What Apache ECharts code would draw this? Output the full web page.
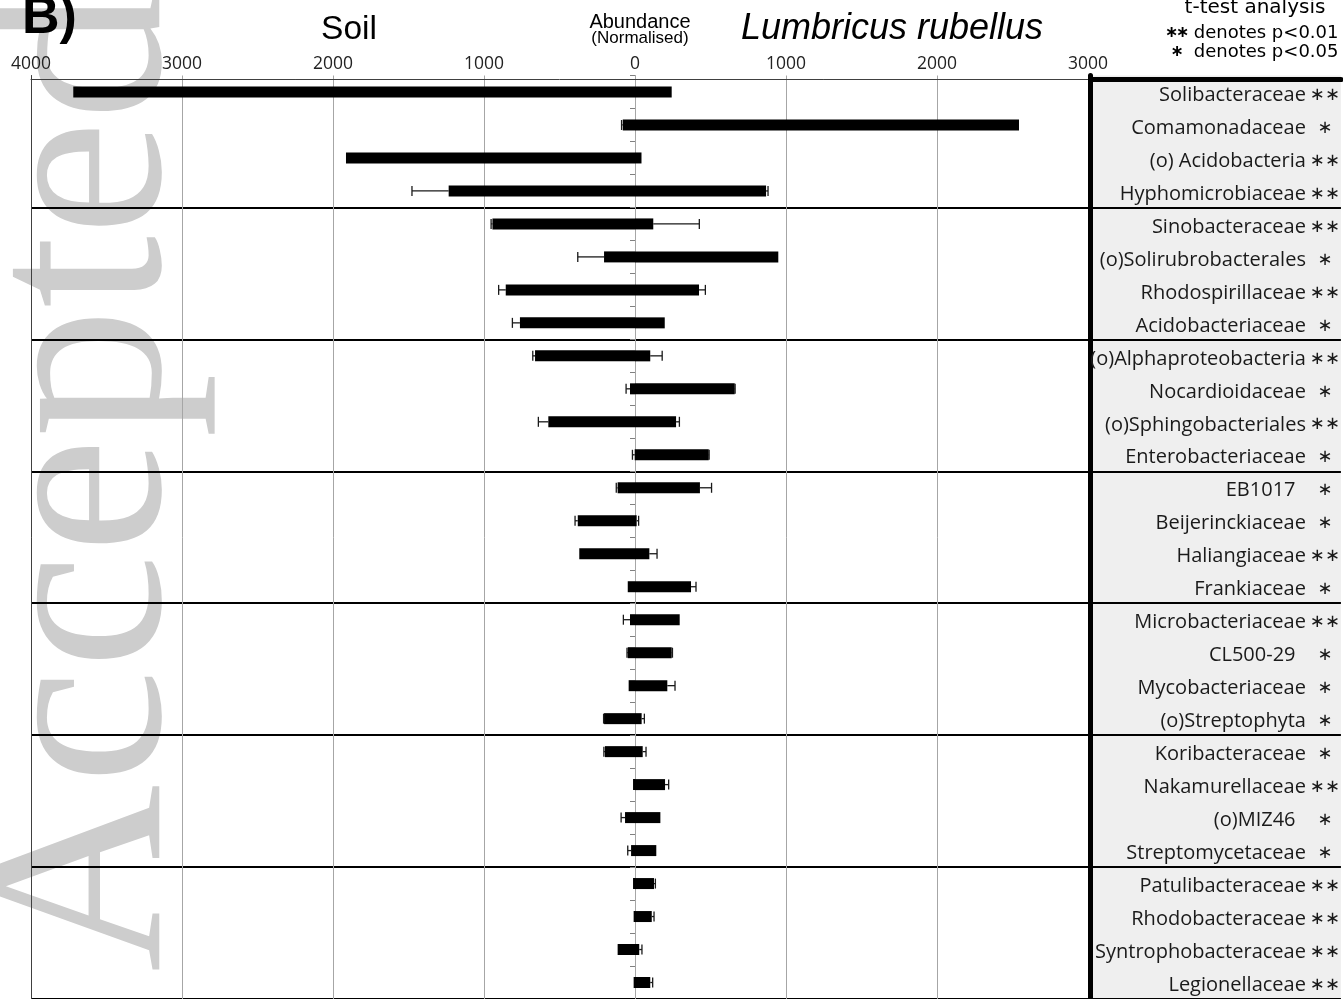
<!DOCTYPE html>
<html>
<head>
<meta charset="utf-8">
<script src="https://cdn.jsdelivr.net/npm/echarts@6/dist/echarts.min.js"></script>
<style>
  html, body { margin: 0; padding: 0; background: #ffffff; }
  #chart { width: 1343px; height: 999px; }
</style>
</head>
<body>
<div id="chart"></div>
<script>
// Taxa, ordered top to bottom, in blocks of four
const taxa = [
  'Solibacteraceae', 'Comamonadaceae', '(o) Acidobacteria', 'Hyphomicrobiaceae',
  'Sinobacteraceae', '(o)Solirubrobacterales', 'Rhodospirillaceae', 'Acidobacteriaceae',
  '(o)Alphaproteobacteria', 'Nocardioidaceae', '(o)Sphingobacteriales', 'Enterobacteriaceae',
  'EB1017  ', 'Beijerinckiaceae', 'Haliangiaceae', 'Frankiaceae',
  'Microbacteriaceae', 'CL500-29  ', 'Mycobacteriaceae', '(o)Streptophyta',
  'Koribacteraceae', 'Nakamurellaceae', '(o)MIZ46  ', 'Streptomycetaceae',
  'Patulibacteraceae', 'Rhodobacteraceae', 'Syntrophobacteraceae', 'Legionellaceae'
];

// t-test significance marks
const significance = [
  '**', '*', '**', '**',
  '**', '*', '**', '*',
  '**', '*', '**', '*',
  '*', '*', '**', '*',
  '**', '*', '*', '*',
  '*', '**', '*', '*',
  '**', '**', '**', '**'
];

// Normalised abundance in soil (drawn to the left of zero)
const soil = [
  3720, 81, 1914, 1234,
  944, 205, 856, 762,
  662, 33, 574, 2,
  115, 379, 369, 48,
  33, 48, 42, 205,
  199, 13, 66, 26,
  13, 9, 115, 9
];
const soilErr = [
  0, 8, 0, 243,
  9, 174, 47, 50,
  15, 26, 66, 15,
  9, 18, 0, 0,
  44, 5, 0, 3,
  7, 0, 26, 22,
  0, 0, 0, 0
];

// Normalised abundance in Lumbricus rubellus (drawn to the right of zero)
const worm = [
  243, 2543, 43, 868,
  121, 949, 424, 197,
  101, 660, 272, 488,
  430, 11, 95, 371,
  296, 243, 214, 44,
  51, 199, 168, 141,
  126, 111, 28, 101
];
const wormErr = [
  0, 0, 0, 13,
  305, 0, 42, 0,
  79, 3, 22, 3,
  77, 13, 51, 33,
  0, 5, 51, 18,
  22, 24, 0, 0,
  9, 15, 18, 16
];

const xMin = -4000, xMax = 3000, xStep = 1000;

const chart = echarts.init(document.getElementById('chart'), null, { renderer: 'canvas' });

const GRID_TOP = 75.5;
const GRID_H = 924.3;
const blockEdge = (i) => i > 0 && i % 4 === 0;

// error whiskers: [row, bar end, whisker end]
const soilWhiskers = soil.map((v, i) => [i, -v, -v - soilErr[i]]).filter((d, i) => soilErr[i] > 0);
const wormWhiskers = worm.map((v, i) => [i, v, v + wormErr[i]]).filter((d, i) => wormErr[i] > 0);

function whisker(params, api) {
  const row = api.value(0);
  const a = api.coord([api.value(1), row]);
  const b = api.coord([api.value(2), row]);
  const cap = 5;
  const st = { stroke: '#1a1a1a', lineWidth: 1.3 };
  return {
    type: 'group',
    children: [
      { type: 'line', shape: { x1: a[0], y1: a[1], x2: b[0], y2: b[1] }, style: st },
      { type: 'line', shape: { x1: b[0], y1: b[1] - cap, x2: b[0], y2: b[1] + cap }, style: st }
    ]
  };
}

const sansCJ = '"Open Sans", "Noto Sans", sans-serif';
const starStyle = { align: 'center', fontFamily: 'DejaVu Sans', fontWeight: 'bold', fontSize: 16, color: '#000' };
const legendRich = {
  s: Object.assign({ width: 11 }, starStyle),
  t: Object.assign({ width: 22 }, starStyle)
};

chart.setOption({
  animation: false,
  backgroundColor: '#ffffff',
  title: [
    { text: 'B)', left: 17, top: -12, textStyle: { fontFamily: 'Liberation Sans', fontWeight: 'bold', fontSize: 52, color: '#000' } },
    { text: 'Soil', left: 344, top: 8, textAlign: 'center', textStyle: { fontFamily: 'Liberation Sans', fontWeight: 'normal', fontSize: 33.5, color: '#000' } },
    { text: 'Abundance', left: 635, top: 7, textAlign: 'center', textStyle: { fontFamily: 'Liberation Sans', fontWeight: 'normal', fontSize: 20, color: '#000' } },
    { text: '(Normalised)', left: 635, top: 25, textAlign: 'center', textStyle: { fontFamily: 'Liberation Sans', fontWeight: 'normal', fontSize: 17, color: '#000' } },
    { text: 'Lumbricus rubellus', left: 887, top: 6, textAlign: 'center', textStyle: { fontFamily: 'Liberation Sans', fontStyle: 'italic', fontWeight: 'normal', fontSize: 36, color: '#000' } },
    { text: 't-test analysis', left: 1250, top: -7, textAlign: 'center', textStyle: { fontFamily: 'DejaVu Sans', fontWeight: 'normal', fontSize: 20, color: '#000' } },
    {
      text: '{s|∗}{s|∗} denotes p<0.01', left: 1161, top: 19,
      textStyle: { fontFamily: 'DejaVu Sans', fontWeight: 'normal', fontSize: 18, color: '#000', rich: legendRich }
    },
    {
      text: '{t|∗} denotes p<0.05', left: 1161, top: 38,
      textStyle: { fontFamily: 'DejaVu Sans', fontWeight: 'normal', fontSize: 18, color: '#000', rich: legendRich }
    }
  ],
  graphic: [
    {
      type: 'text', x: 91, y: 972, rotation: Math.PI / 2, z: -1, silent: true,
      style: { text: 'Accepted', font: '260px "Liberation Serif"', fill: '#cdcdcd', align: 'left', verticalAlign: 'middle' }
    }
  ],
  grid: [
    { left: 31, width: 1057, top: GRID_TOP, height: GRID_H, containLabel: false },
    { left: 1090.5, right: 0, top: GRID_TOP, height: GRID_H, show: true, backgroundColor: '#efefef', borderWidth: 0 }
  ],
  xAxis: [
    {
      gridIndex: 0, type: 'value', min: xMin, max: xMax, interval: xStep, position: 'top', offset: -3.5,
      axisLine: { show: true, onZero: false, lineStyle: { color: '#404040', width: 1 } },
      axisTick: { show: false },
      axisLabel: { margin: 6, formatter: (v) => String(Math.abs(v)), fontFamily: sansCJ, fontSize: 17.5, color: '#222' },
      splitLine: { show: true, lineStyle: { color: '#a6a6a6', width: 1 } }
    },
    {
      gridIndex: 1, type: 'value', min: 0, max: 1, position: 'top', offset: -4,
      axisLine: { show: true, onZero: false, lineStyle: { color: '#000', width: 5 } },
      axisTick: { show: false }, axisLabel: { show: false }, splitLine: { show: false }
    }
  ],
  yAxis: [
    {
      gridIndex: 0, type: 'category', data: taxa, inverse: true,
      axisLine: { show: true, onZero: true, lineStyle: { color: '#a6a6a6', width: 1 } },
      axisTick: { show: true, interval: 0, length: 5, lineStyle: { color: '#808080' } },
      axisLabel: { show: false },
      splitLine: { show: true, interval: blockEdge, lineStyle: { color: '#000', width: 2 } }
    },
    {
      gridIndex: 0, type: 'category', data: taxa, inverse: true, position: 'left',
      axisLine: { show: true, onZero: false, lineStyle: { color: '#404040', width: 1 } },
      axisTick: { show: false }, axisLabel: { show: false }, splitLine: { show: false }
    },
    {
      gridIndex: 1, type: 'category', data: taxa, inverse: true, position: 'left',
      axisLine: { show: true, onZero: false, lineStyle: { color: '#000', width: 5 } },
      axisTick: { show: false }, axisLabel: { show: false },
      splitLine: { show: true, interval: blockEdge, lineStyle: { color: '#000', width: 2 } }
    },
    {
      gridIndex: 1, type: 'category', data: taxa, inverse: true, position: 'right',
      axisLine: { show: false }, axisTick: { show: false }, splitLine: { show: false },
      axisLabel: {
        inside: true, margin: 1, interval: 0, padding: [6, 0, 0, 0],
        formatter: (value, idx) => '{n|' + value + '}{s|' + (significance[idx] === '**' ? '∗∗' : '∗') + '}',
        rich: {
          n: { fontFamily: sansCJ, fontSize: 20, color: '#1a1a1a', padding: [0, 4, 0, 0] },
          s: { width: 30, align: 'center', fontFamily: 'DejaVu Sans', fontSize: 18, color: '#1a1a1a' }
        }
      }
    }
  ],
  series: [
    {
      name: 'Soil', type: 'custom', xAxisIndex: 0, yAxisIndex: 0, z: 1,
      renderItem: whisker, data: soilWhiskers, encode: { x: [1, 2], y: 0 }
    },
    {
      name: 'Lumbricus rubellus', type: 'custom', xAxisIndex: 0, yAxisIndex: 0, z: 1,
      renderItem: whisker, data: wormWhiskers, encode: { x: [1, 2], y: 0 }
    },
    {
      name: 'Soil bar', type: 'bar', stack: 'abundance', xAxisIndex: 0, yAxisIndex: 0, z: 3,
      barWidth: 11, itemStyle: { color: '#000' },
      data: soil.map((v) => -v)
    },
    {
      name: 'Lumbricus bar', type: 'bar', stack: 'abundance', xAxisIndex: 0, yAxisIndex: 0, z: 3,
      barWidth: 11, itemStyle: { color: '#000' },
      data: worm
    }
  ]
});
</script>
</body>
</html>
